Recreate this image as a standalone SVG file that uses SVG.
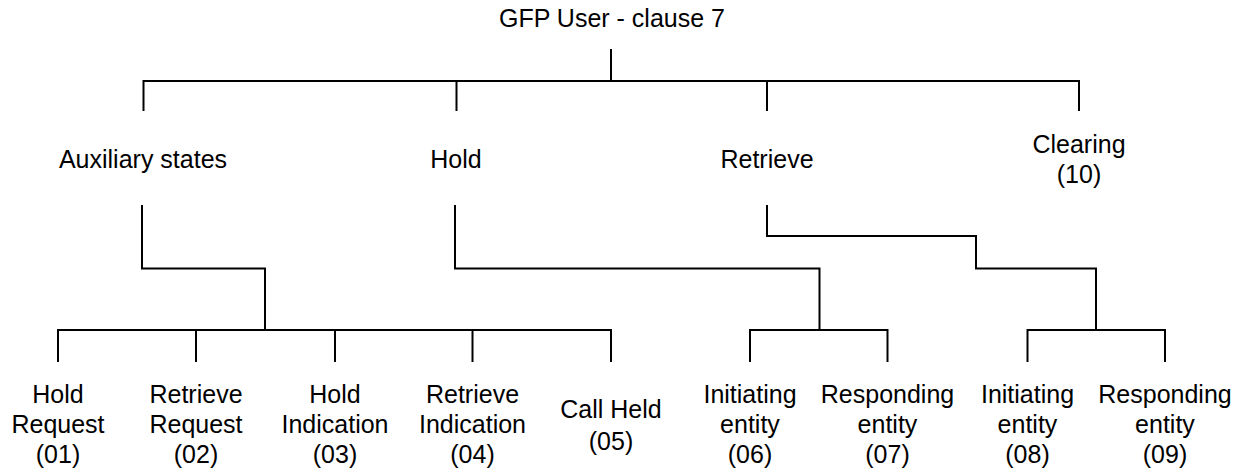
<svg xmlns="http://www.w3.org/2000/svg" width="1237" height="473" viewBox="0 0 1237 473">
<style>
text{font-family:"Liberation Sans",Arial,sans-serif;font-size:25px;fill:#000;text-anchor:middle}
.c{fill:none;stroke:#000;stroke-width:2}
</style>
<rect width="1237" height="473" fill="#fff"/>
<g id="connectors">
<path class="c" d="M611,49V81M143.5,111V81H1079V111M456.5,81V111M767,81V111"/>
<path class="c" d="M142,205V268.5H265V330M58,362V330H611V362M196,330V362M335,330V362M472.5,330V362"/>
<path class="c" d="M455,205V268.5H819.5V330M750,362V330H887.5V362"/>
<path class="c" d="M767,205V236H976V268.5H1096V330M1027.5,362V330H1165V362"/>
</g>
<g id="title"><text x="612" y="27">GFP User - clause 7</text></g>
<g id="aux"><text x="143" y="167.5">Auxiliary states</text></g>
<g id="hold"><text x="456" y="167.5">Hold</text></g>
<g id="retrieve"><text x="767" y="167.5">Retrieve</text></g>
<g id="clearing"><text x="1079" y="153">Clearing</text><text x="1079" y="183">(10)</text></g>
<g id="n01"><text x="58" y="403">Hold</text><text x="58" y="433">Request</text><text x="58" y="463">(01)</text></g>
<g id="n02"><text x="196" y="403">Retrieve</text><text x="196" y="433">Request</text><text x="196" y="463">(02)</text></g>
<g id="n03"><text x="335" y="403">Hold</text><text x="335" y="433">Indication</text><text x="335" y="463">(03)</text></g>
<g id="n04"><text x="472.5" y="403">Retrieve</text><text x="472.5" y="433">Indication</text><text x="472.5" y="463">(04)</text></g>
<g id="n05"><text x="611" y="418">Call Held</text><text x="611" y="450">(05)</text></g>
<g id="n06"><text x="750" y="403">Initiating</text><text x="750" y="433">entity</text><text x="750" y="463">(06)</text></g>
<g id="n07"><text x="887.5" y="403">Responding</text><text x="887.5" y="433">entity</text><text x="887.5" y="463">(07)</text></g>
<g id="n08"><text x="1027.5" y="403">Initiating</text><text x="1027.5" y="433">entity</text><text x="1027.5" y="463">(08)</text></g>
<g id="n09"><text x="1165" y="403">Responding</text><text x="1165" y="433">entity</text><text x="1165" y="463">(09)</text></g>
</svg>
